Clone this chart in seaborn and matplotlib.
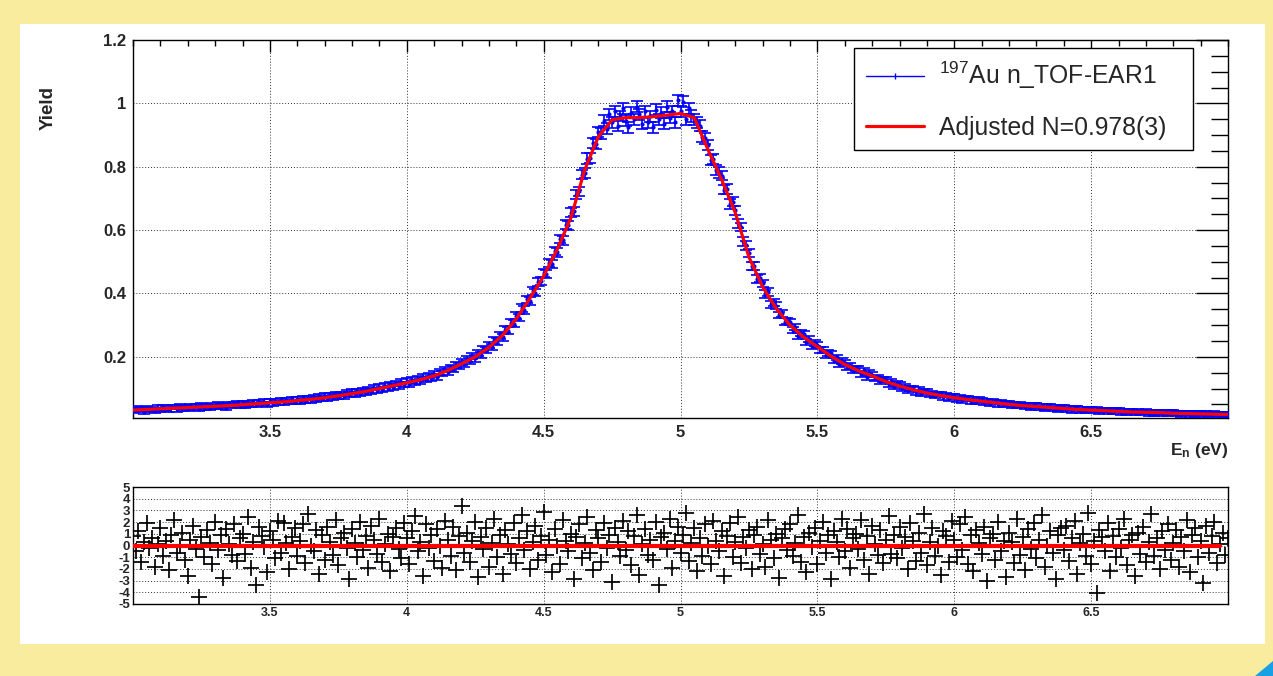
import numpy as np
import matplotlib
matplotlib.use("Agg")
import matplotlib.pyplot as plt
from matplotlib.patches import Rectangle, Polygon
from matplotlib.lines import Line2D
from matplotlib.ticker import MultipleLocator
import seaborn as sns

# ---------------- data ----------------
energy = np.round(np.arange(3.00, 7.0001, 0.01), 2)  # bin centres (eV)

yield_data = [
    0.028, 0.037, 0.031, 0.036, 0.027, 0.039, 0.031, 0.036, 0.029, 0.040,
    0.033, 0.041, 0.035, 0.031, 0.042, 0.041, 0.034, 0.044, 0.037, 0.043,
    0.036, 0.046, 0.039, 0.044, 0.035, 0.047, 0.040, 0.045, 0.038, 0.049,
    0.041, 0.050, 0.043, 0.048, 0.040, 0.052, 0.044, 0.050, 0.054, 0.045,
    0.054, 0.046, 0.053, 0.048, 0.057, 0.049, 0.058, 0.051, 0.059, 0.050,
    0.060, 0.052, 0.061, 0.054, 0.063, 0.055, 0.064, 0.057, 0.066, 0.058,
    0.067, 0.058, 0.069, 0.061, 0.070, 0.063, 0.072, 0.065, 0.075, 0.067,
    0.077, 0.068, 0.078, 0.071, 0.081, 0.074, 0.083, 0.076, 0.087, 0.080,
    0.090, 0.081, 0.092, 0.085, 0.095, 0.087, 0.098, 0.091, 0.102, 0.094,
    0.106, 0.096, 0.109, 0.101, 0.113, 0.105, 0.116, 0.107, 0.121, 0.112,
    0.125, 0.113, 0.127, 0.119, 0.132, 0.123, 0.136, 0.128, 0.142, 0.132,
    0.146, 0.136, 0.152, 0.147, 0.160, 0.152, 0.166, 0.162, 0.175, 0.170,
    0.185, 0.176, 0.194, 0.187, 0.204, 0.195, 0.212, 0.206, 0.225, 0.221,
    0.238, 0.231, 0.252, 0.249, 0.268, 0.262, 0.286, 0.282, 0.308, 0.305,
    0.330, 0.323, 0.354, 0.348, 0.382, 0.376, 0.408, 0.403, 0.437, 0.440,
    0.466, 0.462, 0.496, 0.494, 0.535, 0.530, 0.572, 0.568, 0.617, 0.615,
    0.655, 0.660, 0.712, 0.722, 0.775, 0.780, 0.826, 0.828, 0.876, 0.872,
    0.910, 0.905, 0.945, 0.920, 0.965, 0.940, 0.975, 0.930, 0.960, 0.985,
    0.945, 0.925, 0.970, 0.950, 0.990, 0.965, 0.935, 0.975, 0.940, 0.960,
    0.925, 0.980, 0.950, 0.970, 0.935, 0.990, 0.955, 0.975, 0.940, 1.010,
    0.975, 1.005, 0.950, 0.985, 0.960, 0.950, 0.940, 0.930, 0.895, 0.890,
    0.868, 0.822, 0.825, 0.790, 0.782, 0.772, 0.728, 0.730, 0.682, 0.690,
    0.662, 0.622, 0.610, 0.565, 0.552, 0.528, 0.488, 0.488, 0.447, 0.448,
    0.432, 0.398, 0.405, 0.366, 0.372, 0.362, 0.332, 0.337, 0.311, 0.313,
    0.310, 0.284, 0.294, 0.266, 0.275, 0.271, 0.246, 0.257, 0.234, 0.243,
    0.237, 0.221, 0.222, 0.206, 0.211, 0.211, 0.188, 0.198, 0.176, 0.186,
    0.181, 0.168, 0.171, 0.156, 0.163, 0.163, 0.145, 0.157, 0.136, 0.149,
    0.143, 0.132, 0.136, 0.123, 0.129, 0.128, 0.113, 0.123, 0.106, 0.116,
    0.112, 0.101, 0.106, 0.095, 0.100, 0.102, 0.088, 0.098, 0.084, 0.092,
    0.090, 0.081, 0.086, 0.076, 0.083, 0.083, 0.072, 0.080, 0.069, 0.077,
    0.075, 0.066, 0.072, 0.063, 0.070, 0.069, 0.059, 0.067, 0.058, 0.065,
    0.063, 0.055, 0.061, 0.052, 0.060, 0.058, 0.050, 0.057, 0.048, 0.055,
    0.053, 0.046, 0.052, 0.044, 0.050, 0.049, 0.041, 0.048, 0.040, 0.047,
    0.046, 0.038, 0.045, 0.037, 0.043, 0.043, 0.035, 0.042, 0.034, 0.040,
    0.040, 0.033, 0.039, 0.031, 0.038, 0.037, 0.030, 0.036, 0.029, 0.035,
    0.035, 0.028, 0.034, 0.027, 0.033, 0.033, 0.026, 0.032, 0.025, 0.031,
    0.031, 0.024, 0.030, 0.023, 0.029, 0.029, 0.022, 0.028, 0.022, 0.027,
    0.028, 0.021, 0.027, 0.021, 0.026, 0.027, 0.020, 0.026, 0.019, 0.025,
    0.025, 0.019, 0.024, 0.018, 0.023, 0.024, 0.018, 0.023, 0.017, 0.022,
    0.023, 0.017, 0.022, 0.016, 0.021, 0.022, 0.016, 0.021, 0.015, 0.020,
    0.018,
]

# statistical uncertainty, one value per 0.05 eV group (5 bins each; last = 7.00 eV bin)
yield_err_group = [
    0.0065, 0.0065, 0.0066, 0.0066, 0.0067, 0.0067, 0.0068, 0.0068, 0.0069, 0.0069,
    0.0070, 0.0071, 0.0072, 0.0073, 0.0074, 0.0075, 0.0077, 0.0078, 0.0080, 0.0082,
    0.0084, 0.0086, 0.0088, 0.0091, 0.0094, 0.0098, 0.0102, 0.0107, 0.0113, 0.0120,
    0.0127, 0.0135, 0.0145, 0.0158, 0.0168, 0.0172, 0.0173, 0.0173, 0.0174, 0.0174,
    0.0175, 0.0173, 0.0162, 0.0152, 0.0140, 0.0125, 0.0115, 0.0107, 0.0100, 0.0095,
    0.0091, 0.0088, 0.0085, 0.0082, 0.0080, 0.0078, 0.0076, 0.0075, 0.0074, 0.0073,
    0.0072, 0.0071, 0.0070, 0.0070, 0.0069, 0.0069, 0.0068, 0.0068, 0.0067, 0.0067,
    0.0066, 0.0066, 0.0066, 0.0065, 0.0065, 0.0065, 0.0065, 0.0064, 0.0064, 0.0064,
    0.0064,
]

fit_energy = np.round(np.arange(3.00, 7.0001, 0.05), 2)
fit_yield = [
    0.032, 0.034, 0.036, 0.038, 0.040, 0.042, 0.044, 0.046, 0.049, 0.052,
    0.055, 0.058, 0.062, 0.066, 0.071, 0.077, 0.084, 0.091, 0.100, 0.109,
    0.118, 0.128, 0.140, 0.157, 0.178, 0.200, 0.230, 0.268, 0.320, 0.385,
    0.455, 0.540, 0.640, 0.790, 0.895, 0.948, 0.955, 0.955, 0.958, 0.963,
    0.968, 0.955, 0.855, 0.760, 0.655, 0.515, 0.421, 0.352, 0.300, 0.262,
    0.232, 0.202, 0.176, 0.156, 0.140, 0.122, 0.108, 0.096, 0.086, 0.078,
    0.071, 0.065, 0.060, 0.055, 0.050, 0.046, 0.043, 0.040, 0.037, 0.034,
    0.032, 0.030, 0.028, 0.026, 0.025, 0.024, 0.022, 0.021, 0.020, 0.019,
    0.018,
]

residuals = [
    0.8, -0.5, 1.2, -1.4, 0.3, 1.9, -0.2, 0.6, -1.8, 0.1, 1.5, -0.9, 0.4, -2.1, 0.9, 2.2, -0.6, 0.0, 1.1, -1.2,
    -2.6, 0.5, 1.7, -0.3, -4.4, 0.7, -1.0, 1.3, 0.2, -1.6, 2.0, -0.4, 0.9, -2.8, 1.4, 0.1, -0.8, 1.8, -1.3, 0.6,
    1.0, -0.7, 2.4, -1.9, 0.3, -3.4, 1.6, 0.8, -0.1, -2.3, 1.2, 0.5, -1.1, 2.1, -0.6, 1.9, 0.2, -2.0, 0.7, 1.5,
    -0.9, 0.4, 1.8, -1.5, 2.7, 0.0, -0.5, 1.3, -2.4, 0.9, -1.2, 1.6, 0.3, -0.8, 2.2, -1.7, 0.6, 1.1, -0.2, -2.9,
    1.4, 0.2, -1.0, 2.0, -0.4, 0.8, -1.9, 1.7, 0.5, -0.7, 2.3, -1.4, 0.1, 1.0, -2.2, 0.7, 1.5, -0.3, -1.1, 1.9,
    0.6, -1.6, 1.2, 2.5, -0.5, 0.3, -2.6, 1.8, -0.2, 0.9, -1.3, 1.4, 0.0, -1.9, 2.1, 0.5, -0.9, 1.6, -2.1, 0.8,
    3.4, -0.6, 1.1, -1.4, 0.4, 2.0, -2.7, 0.7, -0.3, 1.5, -1.8, 0.2, 2.3, -1.0, 0.9, -2.4, 1.3, 0.1, -0.7, 1.9,
    -1.5, 0.6, 2.6, -0.4, 1.2, -2.0, 0.3, 1.7, -1.2, 0.8, 2.9, -0.8, 0.5, -2.3, 1.4, 0.0, -1.6, 2.2, 0.4, -0.5,
    1.0, -2.9, 0.7, 1.8, -1.1, 0.2, 2.4, -0.6, -2.1, 1.3, 0.6, -1.4, 1.9, -0.2, 0.9, -3.1, 1.5, 0.3, -0.9, 2.1,
    -0.4, 1.2, -1.7, 0.8, 2.6, -2.5, 0.1, 1.4, -0.8, 0.5, -1.2, 2.0, -3.4, 0.7, 1.1, -0.3, 2.3, -1.9, 0.4, 1.6,
    -0.6, 0.9, 2.8, -1.3, 0.2, 1.5, -2.2, 0.6, -0.9, 1.8, 0.0, -1.6, 2.1, 0.4, -0.5, 1.2, -2.6, 0.8, 1.9, -1.0,
    0.3, 2.4, -1.5, 0.7, -0.2, 1.3, -2.0, 0.9, 1.6, -0.7, 0.1, -1.8, 2.2, 0.5, -1.1, 1.0, -2.8, 0.6, 1.4, -0.4,
    1.8, -0.9, 0.2, 2.6, -1.4, 0.7, -2.3, 1.1, -0.1, 1.5, -1.6, 0.4, 2.0, -0.6, 0.9, -2.9, 1.2, 0.3, -1.0, 2.3,
    -0.5, 1.4, -1.9, 0.6, 1.0, -0.3, 2.2, -1.2, 0.8, -2.4, 1.7, 0.1, -0.8, 1.3, -1.5, 0.5, 2.5, -0.7, 0.9, -1.1,
    1.6, -0.2, 0.7, -2.0, 1.9, 0.4, -1.3, 1.1, -0.6, 2.7, -1.7, 0.3, 1.5, -0.9, 0.0, -2.5, 1.2, 0.8, -1.4, 2.1,
    0.5, -1.0, 1.8, -0.4, 2.4, -1.6, 0.9, -2.2, 1.3, 0.2, -0.7, 1.6, -3.0, 0.6, 1.0, -1.2, 2.0, -0.5, 0.4, -2.7,
    1.1, 0.3, -1.5, 2.3, -0.8, 0.7, -2.1, 1.4, -0.3, 1.9, -1.1, 0.5, 2.6, -1.8, 0.0, 1.2, -0.6, -2.9, 0.9, 1.5,
    -0.4, 1.7, -1.3, 0.6, 2.1, -2.4, 0.2, 1.0, -0.9, 2.8, -1.6, 0.4, -4.1, 1.3, 0.7, -0.5, 1.9, -2.2, 0.8, -1.0,
    1.4, -0.2, 2.3, -1.7, 0.5, 0.9, -2.6, 1.1, -0.7, 1.6, -1.4, 0.3, 2.7, -0.9, 0.6, -2.0, 1.2, -0.4, 1.8, -1.2,
    0.2, 1.3, -1.8, 0.7, -0.5, 2.2, -2.3, 0.9, 1.5, -1.0, 0.4, -3.2, 1.7, -0.6, 0.8, 2.0, -1.5, 0.1, 1.1, -0.8,
    0.6,
]

x_ticks = [3.5, 4.0, 4.5, 5.0, 5.5, 6.0, 6.5]
x_tick_labels = ["3.5", "4", "4.5", "5", "5.5", "6", "6.5"]
y_ticks = [0.2, 0.4, 0.6, 0.8, 1.0, 1.2]
y_tick_labels = ["0.2", "0.4", "0.6", "0.8", "1", "1.2"]
r_ticks = [-5, -4, -3, -2, -1, 0, 1, 2, 3, 4, 5]
r_tick_labels = ["-5", "-4", "-3", "-2", "-1", "0", "1", "2", "3", "4", "5"]

legend_labels = [r"$^{\mathrm{197}}$Au n_TOF-EAR1", "Adjusted N=0.978(3)"]
fit_residual_level = 0.0

# ---------------- style ----------------
sns.set_theme(style="white")
plt.rcParams['font.family'] = ['Liberation Sans', 'DejaVu Sans']
plt.rcParams['mathtext.fontset'] = 'custom'
plt.rcParams['mathtext.rm'] = 'Liberation Sans'
plt.rcParams['mathtext.it'] = 'Liberation Sans:italic'
plt.rcParams['mathtext.bf'] = 'Liberation Sans:bold'
plt.rcParams['axes.unicode_minus'] = False

W, H = 1273, 676
fig = plt.figure(figsize=(W / 100, H / 100), dpi=100)
fig.patch.set_facecolor('#F9EC9E')
fig.add_artist(Rectangle((20 / W, 1 - 644 / H), (1265 - 20) / W, (644 - 24) / H,
                         transform=fig.transFigure, facecolor='white',
                         edgecolor='none', zorder=-5))
fig.add_artist(Polygon([(1255 / W, 0), (1, 0), (1, 15 / H)], closed=True,
                       transform=fig.transFigure, facecolor='#18A0E4',
                       edgecolor='none', zorder=-4))

def px_axes(l, t, r, b):
    return [l / W, 1 - b / H, (r - l) / W, (b - t) / H]

ax = fig.add_axes(px_axes(133, 40, 1228, 418))
axr = fig.add_axes(px_axes(133, 487, 1228, 604))

grid_kw = dict(color='black', linestyle=(0, (1, 2)), linewidth=0.7, alpha=0.8)

# ---------------- main panel ----------------
yerr = np.concatenate([np.repeat(yield_err_group[:-1], 5), yield_err_group[-1:]])
ax.errorbar(energy, yield_data, yerr=yerr, fmt='none', ecolor='blue',
            elinewidth=1.2, capsize=4.0, capthick=1.2, zorder=3)
sns.scatterplot(x=energy, y=yield_data, color='blue', s=9, linewidth=0,
                ax=ax, zorder=3, legend=False)
sns.lineplot(x=fit_energy, y=fit_yield, color='red', linewidth=2.3, ax=ax,
             zorder=4, legend=False)

ax.set_xlim(3.0, 7.0)
ax.set_ylim(0.007, 1.2)
ax.set_xticks(x_ticks)
ax.set_xticklabels(x_tick_labels, fontsize=12, fontweight='bold')
ax.set_yticks(y_ticks)
ax.set_yticklabels(y_tick_labels, fontsize=12, fontweight='bold')
ax.xaxis.set_minor_locator(MultipleLocator(0.1))
ax.yaxis.set_minor_locator(MultipleLocator(0.05))
ax.tick_params(which='both', direction='in', top=True, right=True,
               color='black', width=1.0)
ax.tick_params(axis='x', which='major', length=8.6, pad=5)
ax.tick_params(axis='x', which='minor', length=4.3)
ax.tick_params(axis='y', which='major', length=23, pad=5)
ax.tick_params(axis='y', which='minor', length=12)
ax.grid(True, which='major', **grid_kw)
ax.set_axisbelow(True)
for s in ax.spines.values():
    s.set_color('black')
    s.set_linewidth(1.0)

ax.set_ylabel('Yield', fontsize=13.5, fontweight='bold', va='center')
ax.yaxis.set_label_coords(-0.0775, 0.82)
ax.set_xlabel(r'E$_{\mathbf{n}}$ (eV)', fontsize=12.5, fontweight='bold',
              ha='right', va='center')
ax.xaxis.set_label_coords(1.0, -0.085)

# legend frame (ROOT TLegend box) and entries
frame = Rectangle((854 / W, 1 - 150 / H), (1193 - 854) / W, (150 - 48) / H,
                  transform=fig.transFigure, facecolor='white',
                  edgecolor='black', linewidth=1.0, zorder=5, clip_on=False)
ax.add_artist(frame)
handles = [Line2D([], [], color='blue', linewidth=1.0, marker='|', markersize=5,
                  markeredgewidth=1.0),
           Line2D([], [], color='red', linewidth=2.3)]
leg = ax.legend(handles, legend_labels, loc='upper left',
                bbox_to_anchor=(866 / W, 1 - 60 / H), bbox_transform=fig.transFigure,
                borderaxespad=0, frameon=False,
                prop={'family': 'Liberation Sans', 'size': 17.8},
                handlelength=2.35, handletextpad=0.6, labelspacing=1.0,
                borderpad=0.0)
leg.set_zorder(6)

# ---------------- residual panel ----------------
sns.scatterplot(x=energy, y=residuals, marker='+', s=130, color='black',
                linewidth=1.25, ax=axr, zorder=3, legend=False)
axr.axhline(fit_residual_level, xmin=0.0, xmax=0.993, color='red', linewidth=3.0, zorder=4)
axr.set_xlim(3.0, 7.0)
axr.set_ylim(-5, 5)
axr.set_xticks(x_ticks)
axr.set_xticklabels(x_tick_labels, fontsize=9, fontweight='bold')
axr.set_yticks(r_ticks)
axr.set_yticklabels(r_tick_labels, fontsize=9.5, fontweight='bold')
axr.xaxis.set_minor_locator(MultipleLocator(0.1))
axr.yaxis.set_minor_locator(MultipleLocator(0.2))
axr.tick_params(which='both', direction='in', top=False, right=False,
                color='black', width=0.8)
axr.tick_params(axis='x', which='major', length=5.8, pad=2)
axr.tick_params(axis='x', which='minor', length=2.9)
axr.tick_params(axis='y', which='major', length=21.5, pad=2)
axr.tick_params(axis='y', which='minor', length=12)
axr.grid(True, which='major', **grid_kw)
axr.set_axisbelow(True)
for s in axr.spines.values():
    s.set_color('black')
    s.set_linewidth(1.0)

fig.savefig('out.png', dpi=100, facecolor=fig.get_facecolor())
